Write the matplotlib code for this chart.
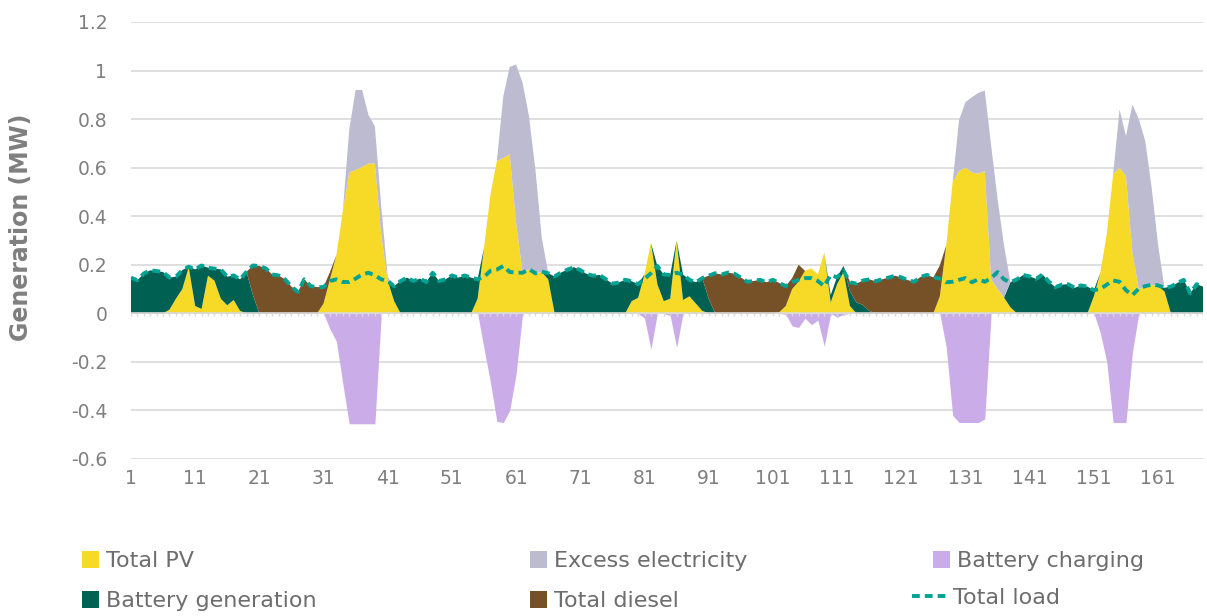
import matplotlib
matplotlib.use('Agg')
import matplotlib.pyplot as plt
from matplotlib.patches import Patch
from matplotlib.lines import Line2D

plt.rcParams['font.family'] = ['DejaVu Sans']

# 一周逐小时数据 (MW)
hours = list(range(1, 169))

total_load = [
    0.147, 0.136, 0.164, 0.177, 0.174, 0.170, 0.147, 0.151, 0.178, 0.192,
    0.181, 0.197, 0.188, 0.184, 0.181, 0.151, 0.156, 0.140, 0.171, 0.197,
    0.195, 0.185, 0.160, 0.156, 0.140, 0.110, 0.088, 0.140, 0.112, 0.108,
    0.108, 0.133, 0.140, 0.129, 0.129, 0.143, 0.160, 0.167, 0.156, 0.140,
    0.133, 0.112, 0.133, 0.147, 0.133, 0.143, 0.129, 0.167, 0.133, 0.140,
    0.156, 0.147, 0.156, 0.147, 0.140, 0.150, 0.175, 0.180, 0.195, 0.170,
    0.168, 0.167, 0.182, 0.165, 0.172, 0.165, 0.152, 0.168, 0.180, 0.190,
    0.178, 0.162, 0.155, 0.158, 0.140, 0.122, 0.127, 0.138, 0.132, 0.120,
    0.142, 0.165, 0.195, 0.160, 0.158, 0.167, 0.160, 0.138, 0.128, 0.145,
    0.155, 0.165, 0.160, 0.168, 0.163, 0.148, 0.130, 0.133, 0.138, 0.128,
    0.138, 0.125, 0.112, 0.128, 0.138, 0.145, 0.145, 0.133, 0.112, 0.158,
    0.148, 0.175, 0.128, 0.122, 0.135, 0.140, 0.132, 0.140, 0.147, 0.155,
    0.148, 0.137, 0.130, 0.150, 0.158, 0.148, 0.143, 0.128, 0.130, 0.138,
    0.145, 0.128, 0.140, 0.130, 0.145, 0.170, 0.140, 0.128, 0.140, 0.158,
    0.152, 0.142, 0.160, 0.130, 0.108, 0.118, 0.120, 0.105, 0.115, 0.110,
    0.095, 0.100, 0.118, 0.135, 0.130, 0.095, 0.075, 0.102, 0.112, 0.118,
    0.115, 0.105, 0.110, 0.125, 0.138, 0.082, 0.120, 0.110]

total_pv = [
    0, 0, 0, 0, 0, 0, 0.015, 0.060, 0.100, 0.190,
    0.030, 0.018, 0.155, 0.135, 0.060, 0.033, 0.055, 0.010, 0, 0,
    0, 0, 0, 0, 0, 0, 0, 0, 0, 0,
    0.040, 0.140, 0.240, 0.420, 0.580, 0.590, 0.603, 0.617, 0.617, 0.320,
    0.134, 0.050, 0, 0, 0, 0, 0, 0, 0, 0,
    0, 0, 0, 0, 0.060, 0.270, 0.490, 0.627, 0.640, 0.655,
    0.373, 0.167, 0.180, 0.165, 0.170, 0.140, 0, 0, 0, 0,
    0, 0, 0, 0, 0, 0, 0, 0, 0.050, 0.064,
    0.160, 0.290, 0.120, 0.050, 0.060, 0.300, 0.055, 0.070, 0.040, 0.010,
    0, 0, 0, 0, 0, 0, 0, 0, 0, 0,
    0, 0.005, 0.030, 0.100, 0.130, 0.175, 0.185, 0.160, 0.250, 0.045,
    0.120, 0.170, 0.030, 0, 0, 0, 0, 0, 0, 0,
    0, 0, 0, 0, 0, 0, 0.070, 0.280, 0.540, 0.586,
    0.600, 0.580, 0.575, 0.586, 0.140, 0.100, 0.065, 0.025, 0, 0,
    0, 0, 0, 0, 0, 0, 0, 0, 0, 0,
    0.070, 0.167, 0.325, 0.572, 0.600, 0.565, 0.250, 0.100, 0.110, 0.118,
    0.112, 0.090, 0, 0, 0, 0, 0, 0]

battery_generation = [
    0.147, 0.136, 0.164, 0.177, 0.174, 0.170, 0.132, 0.091, 0.078, 0.002,
    0.151, 0.179, 0.033, 0.049, 0.121, 0.118, 0.101, 0.130, 0.171, 0.075,
    0, 0, 0, 0, 0, 0, 0, 0, 0, 0,
    0, 0, 0, 0, 0, 0, 0, 0, 0, 0,
    0, 0.062, 0.133, 0.147, 0.133, 0.143, 0.129, 0.167, 0.133, 0.140,
    0.156, 0.147, 0.156, 0.147, 0.080, 0, 0, 0, 0, 0,
    0, 0, 0, 0, 0, 0.025, 0.152, 0.168, 0.180, 0.190,
    0.178, 0.162, 0.155, 0.158, 0.140, 0.122, 0.127, 0.138, 0.082, 0.056,
    0, 0, 0.075, 0.110, 0.098, 0, 0.105, 0.068, 0.088, 0.135,
    0.060, 0, 0, 0, 0, 0, 0, 0, 0, 0,
    0, 0, 0, 0, 0, 0, 0, 0, 0, 0.030,
    0.030, 0.025, 0.060, 0.045, 0.035, 0.010, 0, 0, 0, 0,
    0, 0, 0, 0, 0, 0, 0, 0, 0, 0,
    0, 0, 0, 0, 0, 0, 0, 0.103, 0.140, 0.158,
    0.152, 0.142, 0.160, 0.130, 0.108, 0.118, 0.120, 0.105, 0.115, 0.110,
    0.025, 0, 0, 0, 0, 0, 0, 0, 0, 0,
    0, 0.015, 0.110, 0.125, 0.138, 0.082, 0.120, 0.110]

total_diesel = [
    0, 0, 0, 0, 0, 0, 0, 0, 0, 0,
    0, 0, 0, 0, 0, 0, 0, 0, 0, 0.122,
    0.195, 0.185, 0.160, 0.156, 0.140, 0.110, 0.088, 0.140, 0.112, 0.108,
    0.068, 0.030, 0, 0, 0, 0, 0, 0, 0, 0,
    0, 0, 0, 0, 0, 0, 0, 0, 0, 0,
    0, 0, 0, 0, 0, 0, 0, 0, 0, 0,
    0, 0, 0, 0, 0, 0, 0, 0, 0, 0,
    0, 0, 0, 0, 0, 0, 0, 0, 0, 0,
    0, 0, 0, 0, 0, 0, 0, 0, 0, 0,
    0.095, 0.165, 0.160, 0.168, 0.163, 0.148, 0.130, 0.133, 0.138, 0.128,
    0.138, 0.120, 0.082, 0.045, 0.070, 0, 0, 0, 0, 0,
    0, 0, 0.040, 0.077, 0.100, 0.130, 0.132, 0.140, 0.147, 0.155,
    0.148, 0.137, 0.130, 0.150, 0.158, 0.148, 0.127, 0, 0, 0,
    0, 0, 0, 0, 0, 0, 0, 0, 0, 0,
    0, 0, 0, 0, 0, 0, 0, 0, 0, 0,
    0, 0, 0, 0, 0, 0, 0, 0, 0, 0,
    0, 0, 0, 0, 0, 0, 0, 0]

excess_electricity = [
    0, 0, 0, 0, 0, 0, 0, 0, 0, 0,
    0, 0, 0, 0, 0, 0, 0, 0, 0, 0,
    0, 0, 0, 0, 0, 0, 0, 0, 0, 0,
    0, 0, 0, 0, 0.176, 0.330, 0.317, 0.200, 0.153, 0.117,
    0.016, 0, 0, 0, 0, 0, 0, 0, 0, 0,
    0, 0, 0, 0, 0, 0, 0, 0, 0.254, 0.360,
    0.652, 0.783, 0.632, 0.428, 0.140, 0, 0, 0, 0, 0,
    0, 0, 0, 0, 0, 0, 0, 0, 0, 0,
    0, 0, 0, 0, 0, 0, 0, 0, 0, 0,
    0, 0, 0, 0, 0, 0, 0, 0, 0, 0,
    0, 0, 0, 0, 0, 0, 0, 0, 0, 0,
    0, 0, 0, 0, 0, 0, 0, 0, 0, 0,
    0, 0, 0, 0, 0, 0, 0, 0, 0, 0.210,
    0.270, 0.310, 0.333, 0.332, 0.550, 0.370, 0.215, 0, 0, 0,
    0, 0, 0, 0, 0, 0, 0, 0, 0, 0,
    0, 0, 0, 0, 0.240, 0.165, 0.610, 0.700, 0.600, 0.400,
    0.170, 0, 0, 0, 0, 0, 0, 0]

battery_charging = [
    0, 0, 0, 0, 0, 0, 0, 0, 0, 0,
    0, 0, 0, 0, 0, 0, 0, 0, 0, 0,
    0, 0, 0, 0, 0, 0, 0, 0, 0, 0,
    0, -0.065, -0.115, -0.290, -0.455, -0.455, -0.455, -0.455, -0.455, 0,
    0, 0, 0, 0, 0, 0, 0, 0, 0, 0,
    0, 0, 0, 0, 0, -0.145, -0.285, -0.445, -0.450, -0.400,
    -0.250, 0, 0, 0, 0, 0, 0, 0, 0, 0,
    0, 0, 0, 0, 0, 0, 0, 0, 0, 0,
    -0.020, -0.148, 0, 0, -0.010, -0.141, 0, 0, 0, 0,
    0, 0, 0, 0, 0, 0, 0, 0, 0, 0,
    0, 0, -0.005, -0.052, -0.058, -0.020, -0.047, -0.028, -0.136, 0,
    -0.016, -0.005, 0, 0, 0, 0, 0, 0, 0, 0,
    0, 0, 0, 0, 0, 0, 0, -0.140, -0.420, -0.450,
    -0.450, -0.450, -0.450, -0.435, 0, 0, 0, 0, 0, 0,
    0, 0, 0, 0, 0, 0, 0, 0, 0, 0,
    0, -0.080, -0.200, -0.450, -0.450, -0.450, -0.160, 0, 0, 0,
    0, 0, 0, 0, 0, 0, 0, 0]

x_ticks = list(range(1, 169, 10))
y_ticks = [-0.6, -0.4, -0.2, 0, 0.2, 0.4, 0.6, 0.8, 1.0, 1.2]
y_labels = ['-0.6', '-0.4', '-0.2', '0', '0.2', '0.4', '0.6', '0.8', '1', '1.2']

# 颜色
c_pv = '#F6DA27'
c_excess = '#BDBBD0'
c_charge = '#CAADE8'
c_batt = '#006152'
c_diesel = '#765128'
c_load = '#00A294'
c_grid = '#D9D9D9'
c_text = '#7F7F7F'

fig = plt.figure(figsize=(12.07, 6.16), dpi=100)
ax = fig.add_axes([0.1085, 0.2549, 0.8882, 0.7094])

# 堆叠面积
ax.stackplot(hours, total_pv, battery_generation, total_diesel, excess_electricity,
             colors=[c_pv, c_batt, c_diesel, c_excess], linewidth=0, zorder=2)
ax.fill_between(hours, battery_charging, 0, color=c_charge, linewidth=0, zorder=2)

# 零轴和小刻度
ax.axhline(0, color=c_grid, lw=1.2, zorder=3)
ax.vlines(hours, -0.013, 0, color=c_grid, lw=1.0, zorder=3)

# 负荷虚线
ax.plot(hours, total_load, color=c_load, lw=2.8, dashes=(2.0, 1.3), zorder=5)

ax.set_xlim(1, 168)
ax.set_ylim(-0.6, 1.2)
ax.set_xticks(x_ticks, labels=[str(t) for t in x_ticks])
ax.set_yticks(y_ticks, labels=y_labels)
ax.yaxis.grid(True, color=c_grid, lw=1.2)
ax.set_axisbelow(True)
for s in ax.spines.values():
    s.set_visible(False)
ax.tick_params(axis='both', length=0, colors=c_text, labelsize=13.5)
ax.tick_params(axis='x', pad=7)
ax.tick_params(axis='y', pad=17)

ax.set_ylabel('Generation (MW)', fontsize=17, fontweight='bold', color=c_text)
ax.yaxis.set_label_coords(-0.091, 0.53)

# 图例：逐项放置
items = [
    (Patch(facecolor=c_pv), 'Total PV', 0.0679, 0.0893, 0.77),
    (Patch(facecolor=c_batt), 'Battery generation', 0.0679, 0.0244, 0.77),
    (Patch(facecolor=c_excess), 'Excess electricity', 0.4391, 0.0893, 0.77),
    (Patch(facecolor=c_diesel), 'Total diesel', 0.4391, 0.0244, 0.77),
    (Patch(facecolor=c_charge), 'Battery charging', 0.7730, 0.0893, 0.77),
    (Line2D([], [], color=c_load, lw=2.8, dashes=(2.0, 1.3)), 'Total load', 0.7556, 0.0292, 1.53),
]
for handle, label, lx, ly, hl in items:
    fig.legend([handle], [label], loc='center left', bbox_to_anchor=(lx, ly),
               bbox_transform=fig.transFigure, frameon=False, fontsize=16,
               labelcolor='#6D6D6D', handlelength=hl, handleheight=0.77,
               handletextpad=0.3, borderpad=0, borderaxespad=0)

fig.savefig('out.png', dpi=100)
